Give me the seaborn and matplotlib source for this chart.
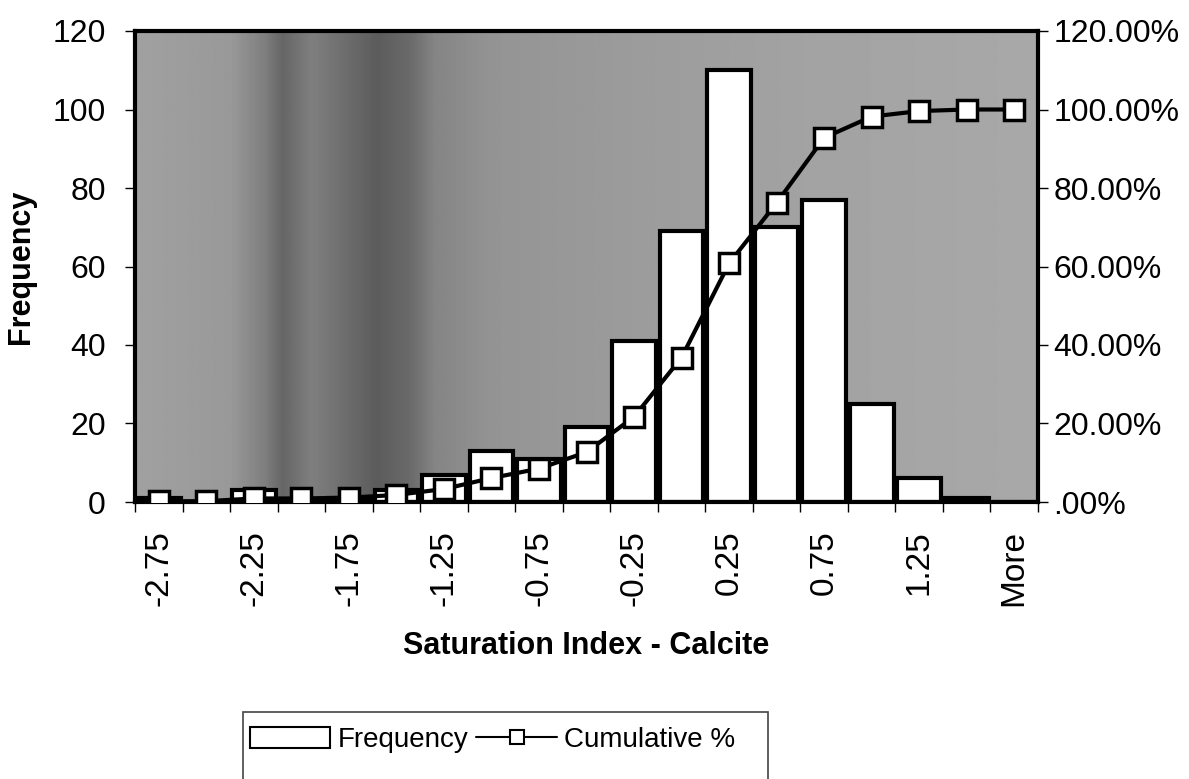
import numpy as np
import pandas as pd
import matplotlib
matplotlib.use("Agg")
import matplotlib.pyplot as plt
from matplotlib.patches import Rectangle
from matplotlib.lines import Line2D
import seaborn as sns

# ---- data ----
categories = ["-2.75", "-2.5", "-2.25", "-2", "-1.75", "-1.5", "-1.25", "-1",
              "-0.75", "-0.5", "-0.25", "0", "0.25", "0.5", "0.75", "1",
              "1.25", "1.5", "More"]
frequency = [1, 0, 3, 0, 1, 3, 7, 13, 11, 19, 41, 69, 110, 70, 77, 25, 6, 1, 0]
cumulative_pct = [0.2, 0.2, 0.9, 0.9, 1.1, 1.8, 3.3, 6.1, 8.5, 12.7, 21.7, 36.8,
                  60.8, 76.2, 92.8, 98.2, 99.6, 100.0, 100.0]
left_ticks = [0, 20, 40, 60, 80, 100, 120]
right_ticks = [0, 20, 40, 60, 80, 100, 120]
right_tick_labels = [".00%", "20.00%", "40.00%", "60.00%", "80.00%", "100.00%", "120.00%"]

sns.set_theme(style="white")
plt.rcParams["font.family"] = ["Liberation Sans", "DejaVu Sans"]
for k in ["text.color", "axes.labelcolor", "xtick.color", "ytick.color"]:
    plt.rcParams[k] = "black"

df = pd.DataFrame({"bin": categories, "freq": frequency, "cum": cumulative_pct})

fig = plt.figure(figsize=(11.89, 7.79), dpi=100)
ax = fig.add_axes([135 / 1189, 1 - 502 / 779, (1038 - 135) / 1189, (502 - 31) / 779])

n = len(categories)
# textured grey plot-area background (style only)
xs = np.linspace(-0.5, n - 0.5, 400)
ctrl_x = [-0.5, 1.5, 2.2, 2.6, 3.2, 4.0, 4.6, 5.3, 5.8, 7.0, 10.0, 14.0, 18.5]
ctrl_g = [0.63, 0.60, 0.50, 0.40, 0.50, 0.42, 0.36, 0.42, 0.52, 0.58, 0.61, 0.64, 0.66]
prof = np.interp(xs, ctrl_x, ctrl_g)
tex = np.tile(prof, (60, 1))
ax.imshow(tex, cmap="gray", vmin=0, vmax=1, aspect="auto",
          extent=(-0.5, n - 0.5, 0, 120), zorder=0, interpolation="bilinear")

sns.barplot(data=df, x="bin", y="freq", order=categories, color="white",
            saturation=1, edgecolor="black", linewidth=3, width=0.92, ax=ax, zorder=2)

ax.set_xlim(-0.5, n - 0.5)
ax.set_ylim(0, 120)
ax.set_yticks(left_ticks)
ax.set_yticklabels([str(t) for t in left_ticks], fontsize=23)
ax.set_xticks(range(0, n, 2))
ax.set_xticklabels(categories[::2], rotation=90, fontsize=24)
ax.set_xticks(np.arange(-0.5, n, 1), minor=True)
ax.tick_params(axis="x", which="major", length=0, pad=20)
ax.tick_params(axis="x", which="minor", length=7, width=1, color="black", bottom=True)
ax.tick_params(axis="y", which="major", length=7, width=1, color="black", left=True, pad=14)
ax.set_xlabel("Saturation Index - Calcite", fontsize=22, fontweight="bold", labelpad=18)
ax.set_ylabel("Frequency", fontsize=22, fontweight="bold", labelpad=12)
for s in ax.spines.values():
    s.set_visible(True)
    s.set_color("black")
    s.set_linewidth(3)

ax2 = ax.twinx()
sns.lineplot(x=np.arange(n), y=cumulative_pct, ax=ax2, color="black", linewidth=3,
             marker="s", markersize=14, markerfacecolor="white",
             markeredgecolor="black", markeredgewidth=2.5, zorder=5)
ax2.set_ylim(0, 120)
ax2.set_yticks(right_ticks)
ax2.set_yticklabels(right_tick_labels, fontsize=23)
ax2.tick_params(axis="y", which="major", length=7, width=1, color="black", right=True, pad=4)
ax2.set_xlim(-0.5, n - 0.5)
for s in ax2.spines.values():
    s.set_visible(False)
ax2.grid(False)
ax.grid(False)

# legend box (extends below figure edge as in original)
frame = Rectangle((243 / 1189, -0.05), (768 - 243) / 1189, (0.05 + 1 - 712 / 779),
                  transform=fig.transFigure, fill=False, edgecolor="#444444",
                  linewidth=1.2, clip_on=False)
fig.add_artist(frame)
h1 = Rectangle((0, 0), 1, 1, facecolor="white", edgecolor="black", linewidth=1.5)
h2 = Line2D([0], [0], color="black", linewidth=1.5, marker="s", markersize=10,
            markerfacecolor="white", markeredgecolor="black", markeredgewidth=1.5)
fig.legend([h1, h2], ["Frequency", "Cumulative %"], loc="center left",
           bbox_to_anchor=(236 / 1189, 1 - 740 / 779), ncol=2, frameon=False,
           fontsize=20, handlelength=2.9, handleheight=0.8, handletextpad=0.25,
           columnspacing=0.3, borderpad=0.0)

fig.savefig("out.png", dpi=100)
